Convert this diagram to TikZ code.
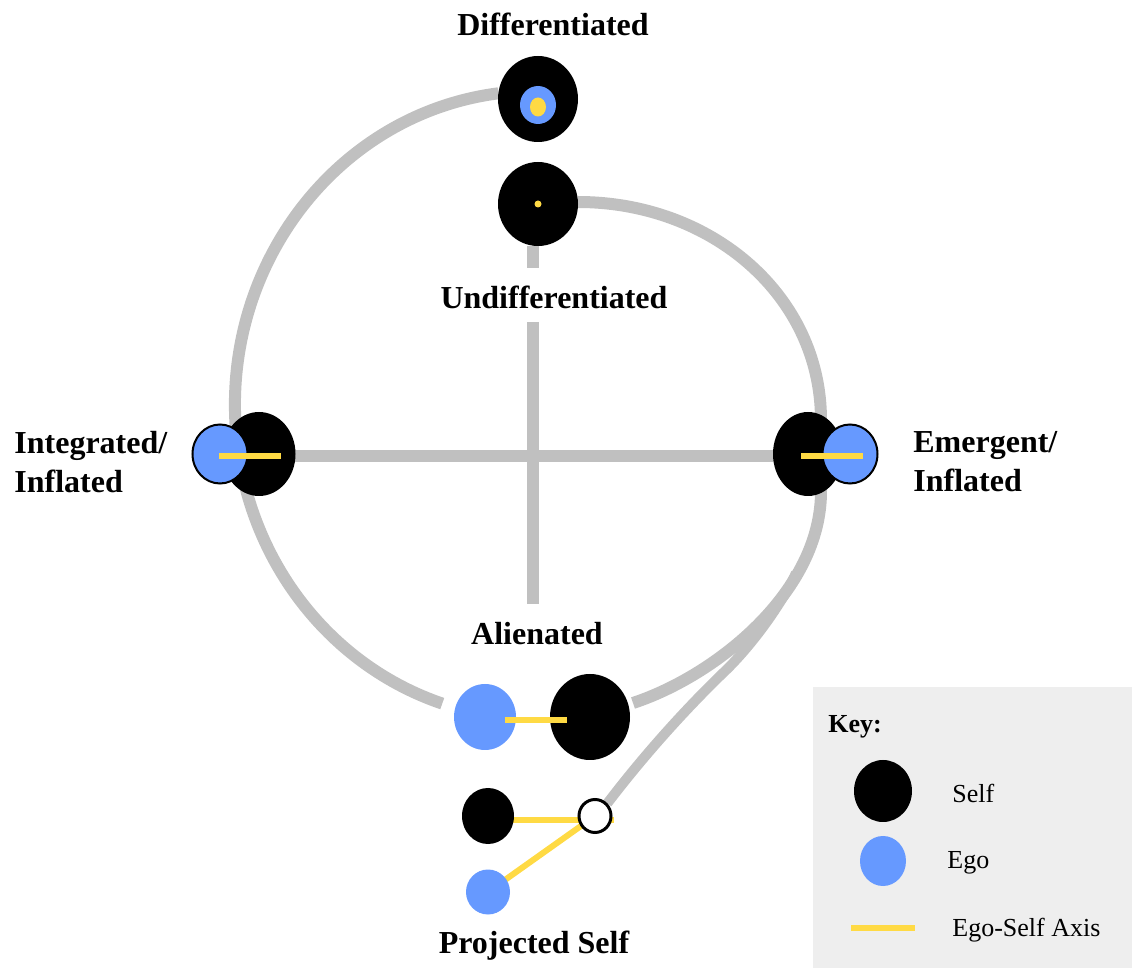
\documentclass[tikz,border=0pt]{standalone}
\usepackage{fontspec}
\setmainfont{Liberation Serif}
\usetikzlibrary{shapes.geometric,backgrounds}
\definecolor{egoblue}{HTML}{6699FF}
\definecolor{axisyellow}{HTML}{FFDA44}
\definecolor{pathgrey}{HTML}{C0C0C0}
\definecolor{keybg}{HTML}{EEEEEE}
\begin{document}
\begin{tikzpicture}[x=0.5pt,y=-0.5pt,
  selfnode/.style={ellipse,fill=black,inner sep=0pt},
  egonode/.style={ellipse,fill=egoblue,inner sep=0pt},
  egoring/.style={egonode,draw=black,line width=1pt},
  axisdot/.style={ellipse,fill=axisyellow,inner sep=0pt},
  greypath/.style={draw=pathgrey,line width=6pt},
  axisline/.style={draw=axisyellow,line width=3pt},
  lbl/.style={font=\bfseries\fontsize{16}{19.5}\selectfont,inner sep=0pt},
  keytext/.style={font=\fontsize{13}{15}\selectfont,anchor=west,inner sep=0pt}]
\useasboundingbox (0,0) rectangle (1132,968);

% key box
\node[fill=keybg,minimum width=159.5pt,minimum height=140.5pt,inner sep=0pt,anchor=north west] (key) at (813,687) {};

% Differentiated
\node[selfnode,minimum width=40pt,minimum height=43pt] (dS) at (538,99) {};
\node[egonode,minimum width=18pt,minimum height=19pt] (dE) at (538,105) {};
\node[axisdot,minimum width=8pt,minimum height=9.5pt] (dA) at (538,107) {};
% Undifferentiated
\node[selfnode,minimum width=40pt,minimum height=42pt] (uS) at (538,204) {};
\node[axisdot,minimum width=3.5pt,minimum height=3.5pt] (uA) at (538,204) {};
% Integrated
\node[selfnode,minimum width=36.5pt,minimum height=42pt] (iS) at (259,454) {};
\node[egoring,minimum width=27.5pt,minimum height=29.5pt] (iE) at (220,454) {};
% Emergent
\node[selfnode,minimum width=35pt,minimum height=42pt] (eS) at (808,454) {};
\node[egoring,minimum width=27.5pt,minimum height=29.5pt] (eE) at (850,454) {};
% Alienated
\node[egonode,minimum width=31pt,minimum height=33pt] (aE) at (485,717) {};
\node[selfnode,minimum width=40pt,minimum height=43pt] (aS) at (590,717) {};
% Projected
\node[selfnode,minimum width=26pt,minimum height=28pt] (pS) at (488,816) {};
\node[ellipse,fill=white,draw=black,line width=1.5pt,inner sep=0pt,minimum width=16pt,minimum height=16.5pt] (pW) at (595,816) {};
\node[egonode,minimum width=22pt,minimum height=22.5pt] (pE) at (488,892) {};

% labels
\node[lbl] (tDiff) at (553,24) {Differentiated};
\node[lbl] (tUndiff) at (554,297) {Undifferentiated};
\node[lbl,align=left,anchor=west] (tInt) at (14,462) {Integrated/\\Inflated};
\node[lbl,align=left,anchor=west] (tEm) at (913,462) {Emergent/\\Inflated};
\node[lbl] (tAl) at (537,634) {Alienated};
\node[lbl] (tProj) at (534,946) {Projected Self};

% key
\node[keytext,font=\bfseries\fontsize{13}{15}\selectfont] (kT) at (828,727) {Key:};
\node[selfnode,minimum width=29pt,minimum height=31pt] (kS) at (883,791) {};
\node[egonode,minimum width=23pt,minimum height=25pt] (kE) at (883,861) {};
\node[keytext] (kSt) at (952,793) {Self};
\node[keytext] (kEt) at (947,863) {Ego};
\node[keytext] (kAt) at (952,930) {Ego-Self Axis};
\coordinate (kA1) at (851,928);
\coordinate (kA2) at (915,928);
\draw[axisline] (kA1) -- (kA2);

% coordinates for path ends
\coordinate (lTop) at (498.4,93.3);
\coordinate (rTop) at (578,202);
\coordinate (rMid1) at (821,420);
\coordinate (rMid2) at (821,490);
\coordinate (rEnd) at (633,703);
\coordinate (vTop) at (533,268);
\coordinate (vMid) at (533,322);
\coordinate (vBot) at (533,604);
\coordinate (hL) at (290,456);
\coordinate (hR) at (785,456);
\coordinate (bEnd) at (796,573);

\begin{scope}[on background layer]
  \fill[keybg] (key.north west) rectangle (key.south east);
  % left arc: Differentiated -> Integrated -> Alienated
  \draw[greypath] (lTop) arc[start angle=263,end angle=108,x radius=300,y radius=314];
  % right arc: Undifferentiated -> Emergent -> Alienated
  \draw[greypath] (rTop) .. controls (712,202) and (821,296) .. (rMid1) -- (rMid2)
        .. controls (822,592) and (715,676) .. (rEnd);
  % branch from projected self
  \draw[greypath,line width=5pt] (pW.north east) .. controls (648,750) and (690,705) .. (722,674)
        .. controls (752,646) and (783,602) .. (bEnd);
  % cross
  \draw[greypath] (uS.south -| vTop) -- (vTop);
  \draw[greypath] (vMid) -- (vBot);
  \draw[greypath] (hL) -- (hR);
  % projected axes (under circles)
  \coordinate (pAx) at (614,820);
  \draw[axisline] (pS.center |- pAx) -- (pAx);
  \draw[axisline] (pE.center) -- (pW.center);
\end{scope}

% ego-self axes on top
\coordinate (iAx1) at (219,456);
\coordinate (iAx2) at (281,456);
\draw[axisline] (iAx1) -- (iAx2);
\coordinate (eAx1) at (801,456);
\coordinate (eAx2) at (863,456);
\draw[axisline] (eAx1) -- (eAx2);
\coordinate (aAx1) at (505,720);
\coordinate (aAx2) at (567,720);
\draw[axisline] (aAx1) -- (aAx2);
\end{tikzpicture}
\end{document}
